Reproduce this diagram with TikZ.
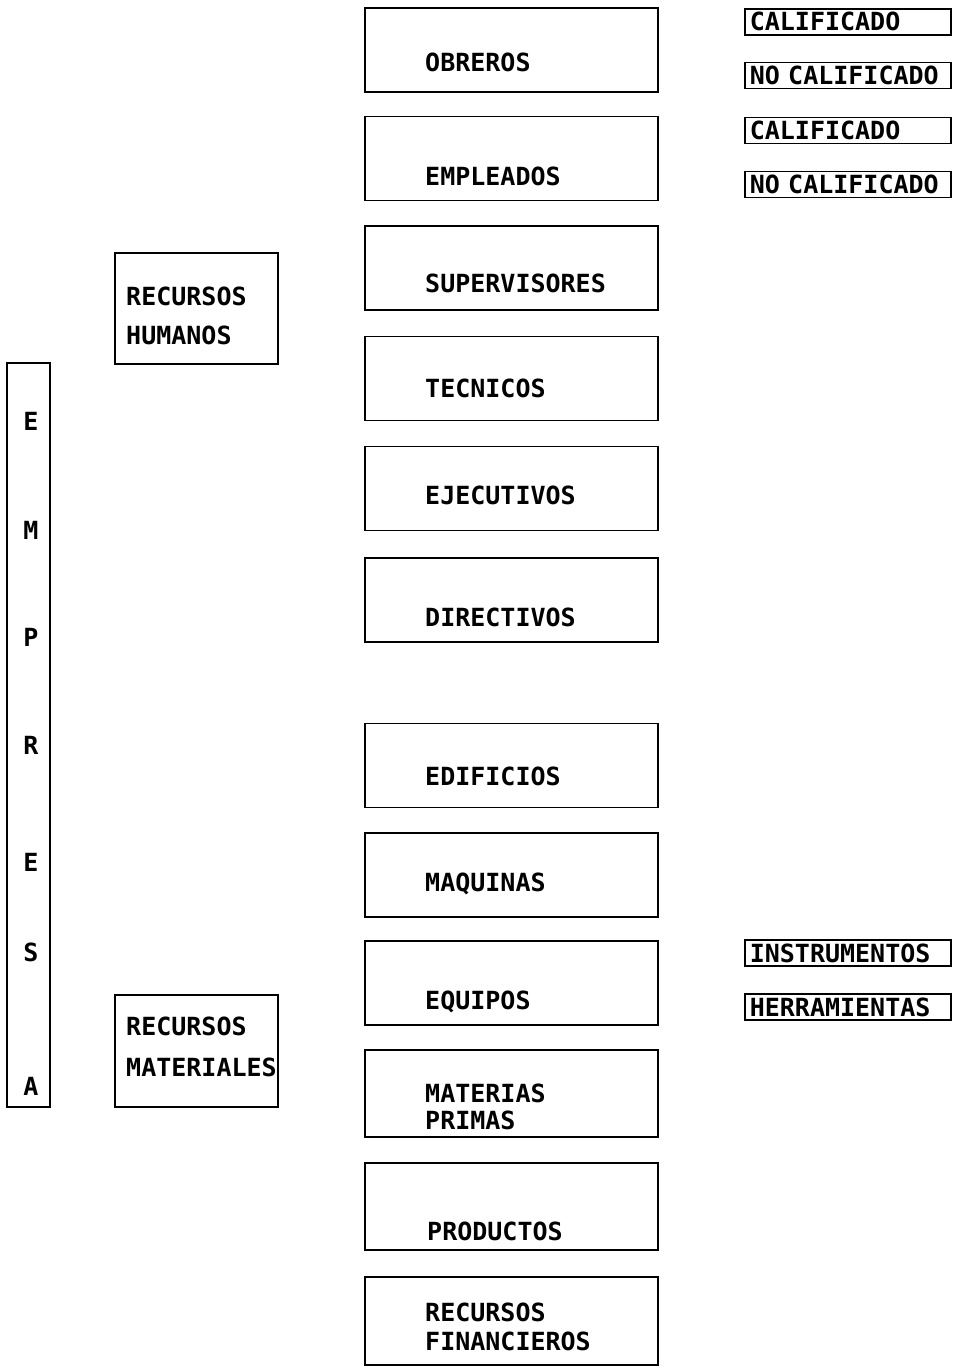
\documentclass[tikz,border=0pt]{standalone}
\usepackage{fontspec}
\setmonofont{DejaVu Sans Mono}
\usepackage{xcolor}
\usepackage{tikz}
\usetikzlibrary{positioning}

\tikzset{
  box/.style={draw, line width=1.6pt, inner sep=0pt},
  midbox/.style={box, minimum width=293pt, minimum height=84pt},
  sidebox/.style={box, minimum width=163pt, minimum height=111pt},
  tagbox/.style={box, anchor=west, font=\ttfamily\bfseries\fontsize{25}{28}\selectfont,
    text width=196pt, align=left, inner xsep=5pt, inner ysep=2pt, text height=20pt, text depth=2pt},
  txt/.style={font=\ttfamily\bfseries\fontsize{25}{28}\selectfont, inner sep=0pt, anchor=base west, align=left},
}

\begin{document}
\begin{tikzpicture}[x=1pt, y=-1pt]
\useasboundingbox (0,0) rectangle (957,1370);

% Empresa
\node[box, minimum width=43pt, minimum height=744pt] (empresa) at (28.5,735) {};
\node[txt, anchor=base] (emp1) at (31,430) {E};
\node[txt, anchor=base] (emp2) at (31,539) {M};
\node[txt, anchor=base] (emp3) at (31,646) {P};
\node[txt, anchor=base] (emp4) at (31,754) {R};
\node[txt, anchor=base] (emp5) at (31,871) {E};
\node[txt, anchor=base] (emp6) at (31,961) {S};
\node[txt, anchor=base] (emp7) at (31,1095) {A};

% Recursos humanos
\node[sidebox] (humanos) at (196.5,308.5) {};
\node[txt] (humanos-t) at (126,344) {RECURSOS\\[11pt]HUMANOS};

\node[midbox] (obreros) at (511.5,50) {};
\node[txt] (obreros-t) at (425,72) {OBREROS};
\node[midbox] (empleados) at (511.5,158.5) {};
\node[txt] (empleados-t) at (425,185) {EMPLEADOS};
\node[midbox] (supervisores) at (511.5,268) {};
\node[txt] (supervisores-t) at (425,292) {SUPERVISORES};
\node[midbox] (tecnicos) at (511.5,378.5) {};
\node[txt] (tecnicos-t) at (425,397) {TECNICOS};
\node[midbox] (ejecutivos) at (511.5,488.5) {};
\node[txt] (ejecutivos-t) at (425,504) {EJECUTIVOS};
\node[midbox] (directivos) at (511.5,600) {};
\node[txt] (directivos-t) at (425,626) {DIRECTIVOS};

% Calificacion
\node[tagbox] (calif1) at (744,22) {CALIFICADO};
\node[tagbox] (nocalif1) at (744,75.5) {NO~CALIFICADO};
\node[tagbox] (calif2) at (744,130.5) {CALIFICADO};
\node[tagbox] (nocalif2) at (744,184.5) {NO~CALIFICADO};

% Recursos materiales
\node[sidebox, minimum height=112pt] (materiales) at (196.5,1051) {};
\node[txt] (materiales-t) at (126,1076) {RECURSOS\\[13pt]MATERIALES};

\node[midbox] (edificios) at (511.5,765.5) {};
\node[txt] (edificios-t) at (425,785) {EDIFICIOS};
\node[midbox] (maquinas) at (511.5,875) {};
\node[txt] (maquinas-t) at (425,891) {MAQUINAS};
\node[midbox] (equipos) at (511.5,983) {};
\node[txt] (equipos-t) at (425,1009) {EQUIPOS};
\node[midbox, minimum height=87pt] (materias) at (511.5,1093.5) {};
\node[txt] (materias-t) at (425,1129) {MATERIAS\\[-1pt]PRIMAS};
\node[midbox, minimum height=87pt] (productos) at (511.5,1206.5) {};
\node[txt] (productos-t) at (427,1240) {PRODUCTOS};
\node[midbox, minimum height=88pt] (financieros) at (511.5,1321) {};
\node[txt] (financieros-t) at (425,1350) {RECURSOS\\[1pt]FINANCIEROS};

% Equipos
\node[tagbox] (instrumentos) at (744,953) {INSTRUMENTOS};
\node[tagbox] (herramientas) at (744,1007) {HERRAMIENTAS};
\end{tikzpicture}
\end{document}
